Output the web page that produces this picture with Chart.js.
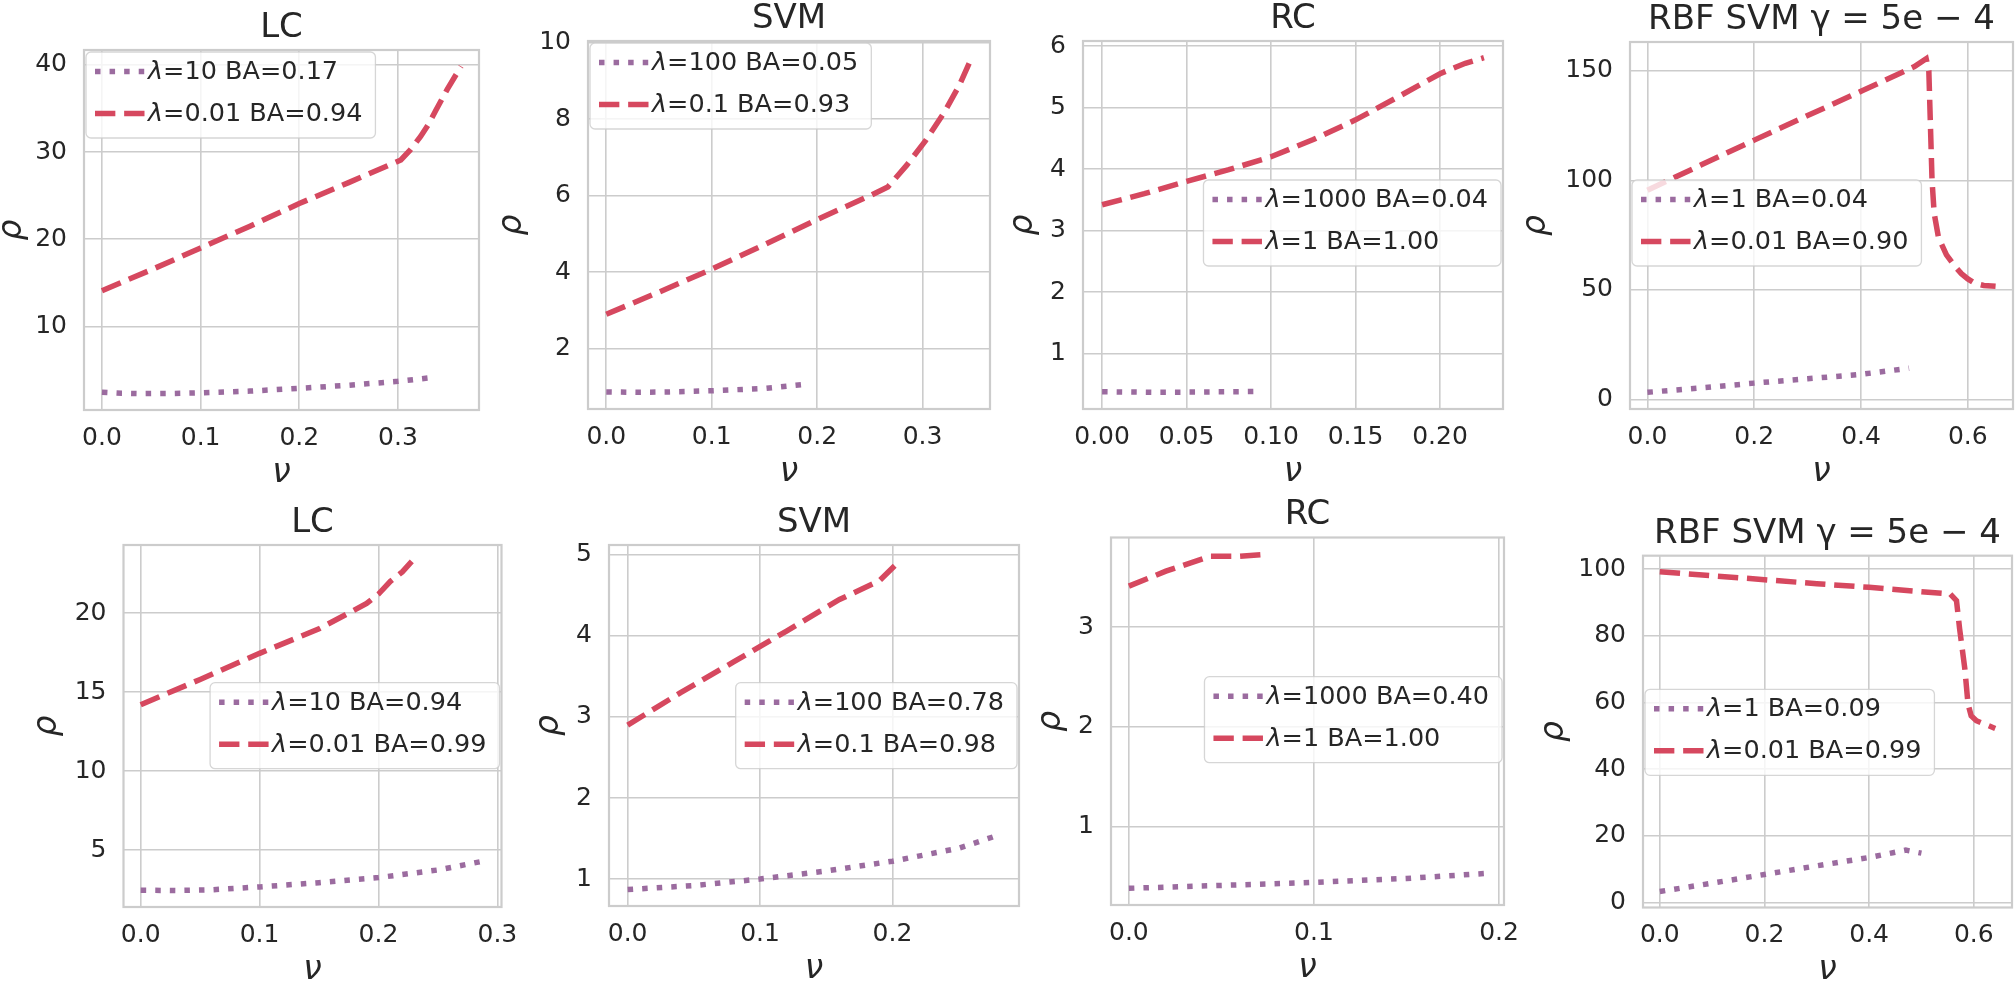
<!DOCTYPE html>
<html lang="en">
<head>
<meta charset="UTF-8">
<title>rho vs nu</title>
<script src="https://cdn.jsdelivr.net/npm/chart.js@4.4.1/dist/chart.umd.min.js"></script>
<style>
  body { margin: 0; background: #fff; }
  #fig { position: relative; width: 2016px; height: 981px; overflow: hidden; }
  #fig canvas { position: absolute; left: 0; top: -40px; }
</style>
</head>
<body>
<div id="fig"></div>
<script>
// values, [nu, rho] pairs

// top row
var lcTopWeak = [[0, 2.45], [0.02, 2.33], [0.04, 2.29], [0.07, 2.31], [0.1, 2.38], [0.15, 2.58], [0.2, 2.9], [0.25, 3.25], [0.3, 3.7], [0.336, 4.15]];
var lcTopStrong = [[0, 14.1], [0.05, 16.5], [0.1, 19.0], [0.15, 21.5], [0.2, 24.1], [0.25, 26.5], [0.303, 29.1], [0.313, 30.3], [0.323, 31.8], [0.331, 33.2], [0.3385, 34.8], [0.35, 37.2], [0.364, 39.84]];
var svmTopWeak = [[0, 0.87], [0.03, 0.86], [0.06, 0.87], [0.1, 0.9], [0.15, 0.96], [0.19, 1.07]];
var svmTopStrong = [[0, 2.9], [0.05, 3.48], [0.1, 4.08], [0.15, 4.72], [0.2, 5.38], [0.25, 6.0], [0.267, 6.23], [0.285, 6.8], [0.303, 7.45], [0.321, 8.2], [0.335, 8.9], [0.3466, 9.61]];
var rcTopWeak = [[0, 0.38], [0.03, 0.371], [0.06, 0.375], [0.094, 0.385]];
var rcTopStrong = [[0, 3.42], [0.025, 3.6], [0.05, 3.8], [0.075, 3.99], [0.1, 4.2], [0.125, 4.48], [0.15, 4.8], [0.175, 5.17], [0.2, 5.55], [0.215, 5.72], [0.226, 5.81]];
var rbfTopWeak = [[0, 3.2], [0.1, 5.2], [0.2, 7.4], [0.3, 9.4], [0.4, 11.4], [0.49, 14.2]];
var rbfTopStrong = [[0, 95.5], [0.1, 107], [0.2, 118.4], [0.3, 129.6], [0.4, 140.7], [0.5, 152], [0.522, 155.6], [0.527, 150], [0.53, 125], [0.533, 100], [0.537, 85], [0.545, 74], [0.56, 66], [0.575, 61], [0.588, 57.4], [0.6, 55], [0.613, 53], [0.63, 52], [0.652, 51.6]];

// bottom row
var lcBotWeak = [[0, 2.47], [0.03, 2.45], [0.06, 2.5], [0.1, 2.68], [0.15, 2.95], [0.2, 3.27], [0.25, 3.75], [0.289, 4.32]];
var lcBotStrong = [[0, 14.2], [0.05, 15.8], [0.1, 17.45], [0.15, 19.0], [0.19, 20.6], [0.2, 21.2], [0.21, 22.0], [0.22, 22.6], [0.228, 23.26]];
var svmBotWeak = [[0, 0.87], [0.05, 0.92], [0.1, 1.0], [0.15, 1.1], [0.2, 1.22], [0.25, 1.38], [0.2815, 1.55]];
var svmBotStrong = [[0, 2.9], [0.04, 3.3], [0.08, 3.68], [0.12, 4.06], [0.16, 4.45], [0.19, 4.68], [0.205, 4.92]];
var rcBotWeak = [[0, 0.381], [0.05, 0.41], [0.1, 0.44], [0.15, 0.48], [0.193, 0.53]];
var rcBotStrong = [[0, 3.41], [0.02, 3.56], [0.044, 3.71], [0.06, 3.71], [0.075, 3.73]];
var rbfBotWeak = [[0, 3.3], [0.1, 5.8], [0.2, 8.4], [0.3, 11], [0.4, 13.5], [0.47, 15.7], [0.5, 14.8]];
var rbfBotStrong = [[0, 99.2], [0.1, 98], [0.2, 96.8], [0.3, 95.6], [0.4, 94.5], [0.5, 93.2], [0.555, 92.5], [0.567, 90.5], [0.573, 82], [0.583, 70], [0.589, 59.5], [0.595, 56], [0.605, 54.5], [0.641, 52.2]];

var titles = ['LC', 'SVM', 'RC', 'RBF SVM γ = 5e − 4', 'LC', 'SVM', 'RC', 'RBF SVM γ = 5e − 4'];
var weakLabels = ['λ=10 BA=0.17', 'λ=100 BA=0.05', 'λ=1000 BA=0.04', 'λ=1 BA=0.04',
                  'λ=10 BA=0.94', 'λ=100 BA=0.78', 'λ=1000 BA=0.40', 'λ=1 BA=0.09'];
var strongLabels = ['λ=0.01 BA=0.94', 'λ=0.1 BA=0.93', 'λ=1 BA=1.00', 'λ=0.01 BA=0.90',
                    'λ=0.01 BA=0.99', 'λ=0.1 BA=0.98', 'λ=1 BA=1.00', 'λ=0.01 BA=0.99'];
var weakSeries = [lcTopWeak, svmTopWeak, rcTopWeak, rbfTopWeak, lcBotWeak, svmBotWeak, rcBotWeak, rbfBotWeak];
var strongSeries = [lcTopStrong, svmTopStrong, rcTopStrong, rbfTopStrong, lcBotStrong, svmBotStrong, rcBotStrong, rbfBotStrong];

var xTicks = [[0, 0.1, 0.2, 0.3], [0, 0.1, 0.2, 0.3], [0, 0.05, 0.1, 0.15, 0.2], [0, 0.2, 0.4, 0.6],
              [0, 0.1, 0.2, 0.3], [0, 0.1, 0.2], [0, 0.1, 0.2], [0, 0.2, 0.4, 0.6]];
var yTicks = [[10, 20, 30, 40], [2, 4, 6, 8, 10], [1, 2, 3, 4, 5, 6], [0, 50, 100, 150],
              [5, 10, 15, 20], [1, 2, 3, 4, 5], [1, 2, 3], [0, 20, 40, 60, 80, 100]];
var xDecimals = [1, 1, 2, 1, 1, 1, 1, 1];

// layout (page pixels): axes box [left, top, right, bottom]
var axesBoxes = [[84, 50, 479, 410], [588, 41, 990, 409], [1083, 41, 1503, 409], [1630, 42, 2013, 409],
                 [123.5, 545, 501.5, 907], [609, 545, 1019, 906], [1111, 537.5, 1504, 905], [1643, 555.7, 2012, 907.5]];
var rhoGap = [68, 72, 56, 90, 72, 56, 55.5, 85];
var legendAnchor = ['left', 'left', 'right', 'left', 'right', 'right', 'right', 'left'];
var legendTop = [52, 43, 180, 180, 682.7, 682.7, 676.7, 689.3];

var SHIFT = 40;
var purple = '#9b6b9f';
var red = '#d6485f';
var textColor = '#262626';
var LW = 5.5;

Chart.defaults.font.family = "'DejaVu Sans'";
Chart.defaults.color = textColor;

var axesFrame = {
    id: 'axesFrame',
    beforeDatasetsDraw: function (chart) {
        var a = chart.chartArea, ctx = chart.ctx;
        ctx.save();
        ctx.strokeStyle = '#cccccc';
        ctx.lineWidth = 2.2;
        ctx.strokeRect(a.left, a.top, a.right - a.left, a.bottom - a.top);
        ctx.restore();
    }
};

// matplotlib-like legend drawn inside the axes
var insideLegend = {
    id: 'insideLegend',
    afterDraw: function (chart, args, opts) {
        var ctx = chart.ctx, area = chart.chartArea;
        var size = 25.5;
        var items = chart.data.datasets;
        var italic = 'italic ' + size + "px 'DejaVu Sans'";
        var normal = size + "px 'DejaVu Sans'";
        ctx.save();
        var widths = items.map(function (ds) {
            ctx.font = italic;
            var w1 = ctx.measureText(ds.label.charAt(0)).width;
            ctx.font = normal;
            return w1 + ctx.measureText(ds.label.slice(1)).width;
        });
        var w = 62 + Math.max.apply(null, widths) + 13;
        var h = 86;
        var x = opts.anchor === 'left' ? area.left + 2 : area.right - 2 - w;
        var y = opts.top + SHIFT;

        ctx.beginPath();
        if (ctx.roundRect) ctx.roundRect(x, y, w, h, 5); else ctx.rect(x, y, w, h);
        ctx.fillStyle = 'rgba(255,255,255,0.8)';
        ctx.fill();
        ctx.strokeStyle = 'rgba(204,204,204,0.8)';
        ctx.lineWidth = 1.3;
        ctx.stroke();

        items.forEach(function (ds, k) {
            var ry = y + 19.5 + k * 42;
            ctx.beginPath();
            ctx.setLineDash(ds.borderDash);
            ctx.lineCap = 'butt';
            ctx.strokeStyle = ds.borderColor;
            ctx.lineWidth = ds.borderWidth;
            ctx.moveTo(x + 9, ry);
            ctx.lineTo(x + 61, ry);
            ctx.stroke();
            ctx.setLineDash([]);

            ctx.fillStyle = textColor;
            ctx.textBaseline = 'middle';
            ctx.textAlign = 'left';
            var tx = x + 62;
            ctx.font = italic;
            ctx.fillText(ds.label.charAt(0), tx, ry + 1);
            tx += ctx.measureText(ds.label.charAt(0)).width;
            ctx.font = normal;
            ctx.fillText(ds.label.slice(1), tx, ry + 1);
        });
        ctx.restore();
    }
};

// 5% margins like matplotlib autoscale
function limits(a, b, k) {
    var v = a.concat(b).map(function (d) { return d[k]; });
    var lo = Math.min.apply(null, v), hi = Math.max.apply(null, v);
    var m = (hi - lo) * 0.05;
    return [lo - m, hi + m];
}

function toXY(arr) {
    return arr.map(function (d) { return { x: d[0], y: d[1] }; });
}

function makePanel(i) {
    var box = axesBoxes[i];
    var L = box[0], T = box[1] + SHIFT, R = box[2], B = box[3] + SHIFT;
    var yW = rhoGap[i] + 20.5;
    var xH = 90;
    var W = 2016, H = 981 + 2 * SHIFT;

    var canvas = document.createElement('canvas');
    canvas.width = W;
    canvas.height = H;
    document.getElementById('fig').appendChild(canvas);

    var xl = limits(weakSeries[i], strongSeries[i], 0);
    var yl = limits(weakSeries[i], strongSeries[i], 1);

    return new Chart(canvas.getContext('2d'), {
        type: 'line',
        data: {
            datasets: [{
                label: weakLabels[i],
                data: toXY(weakSeries[i]),
                borderColor: purple,
                borderWidth: LW,
                borderDash: [LW, LW * 1.65],
                borderCapStyle: 'butt',
                pointRadius: 0,
                fill: false,
                tension: 0
            }, {
                label: strongLabels[i],
                data: toXY(strongSeries[i]),
                borderColor: red,
                borderWidth: LW,
                borderDash: [LW * 3.7, LW * 1.6],
                borderCapStyle: 'butt',
                pointRadius: 0,
                fill: false,
                tension: 0
            }]
        },
        options: {
            responsive: false,
            animation: false,
            events: [],
            layout: {
                padding: { left: L - yW, top: T - 39, right: W - R, bottom: H - B - xH }
            },
            scales: {
                x: {
                    type: 'linear',
                    min: xl[0],
                    max: xl[1],
                    afterBuildTicks: function (scale) {
                        scale.ticks = xTicks[i].map(function (v) { return { value: v }; });
                    },
                    afterFit: function (scale) { scale.height = xH; },
                    grid: { color: '#cccccc', lineWidth: 1.6, drawTicks: false },
                    border: { display: false },
                    ticks: {
                        autoSkip: false,
                        maxRotation: 0,
                        padding: 13,
                        font: { size: 25 },
                        callback: function (v) { return Number(v).toFixed(xDecimals[i]); }
                    },
                    title: {
                        display: true,
                        text: 'ν',
                        font: { size: 33, style: 'italic', lineHeight: 1 },
                        padding: { top: 0, bottom: 10.5 }
                    }
                },
                y: {
                    type: 'linear',
                    min: yl[0],
                    max: yl[1],
                    afterBuildTicks: function (scale) {
                        scale.ticks = yTicks[i].map(function (v) { return { value: v }; });
                    },
                    afterFit: function (scale) { scale.width = yW; },
                    grid: { color: '#cccccc', lineWidth: 1.6, drawTicks: false },
                    border: { display: false },
                    ticks: {
                        autoSkip: false,
                        padding: 17,
                        font: { size: 25 },
                        callback: function (v) { return String(v); }
                    },
                    title: {
                        display: true,
                        text: 'ρ',
                        font: { size: 33, style: 'italic', lineHeight: 1 },
                        padding: { top: 0, bottom: 0 }
                    }
                }
            },
            plugins: {
                legend: { display: false },
                tooltip: { enabled: false },
                title: {
                    display: true,
                    text: titles[i],
                    fullSize: false,
                    color: textColor,
                    font: { size: 34, weight: 'normal', lineHeight: 1 },
                    padding: { top: 0, bottom: 5 }
                },
                insideLegend: { anchor: legendAnchor[i], top: legendTop[i] }
            }
        },
        plugins: [axesFrame, insideLegend]
    });
}

for (var i = 0; i < 8; i++) {
    makePanel(i);
}
</script>
</body>
</html>
